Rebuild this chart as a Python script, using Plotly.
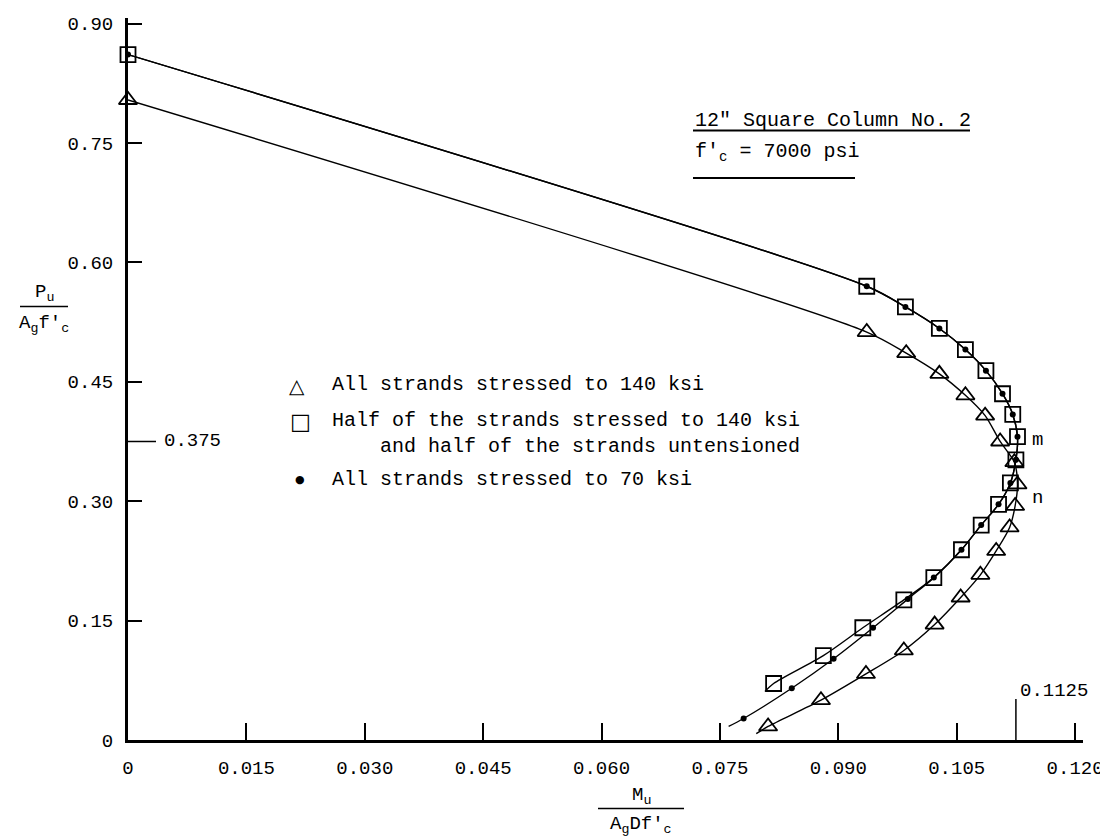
import plotly.graph_objects as go

# ---------------- data ----------------
# All strands stressed to 140 ksi (triangles)
tri_x = [0.0, 0.0936, 0.0986, 0.1028, 0.1061, 0.1086, 0.1105, 0.1123, 0.1127, 0.1124,
         0.1117, 0.1100, 0.1080, 0.1055, 0.1022, 0.0983, 0.0935, 0.0878, 0.0811]
tri_y = [0.804, 0.5125, 0.486, 0.460, 0.433, 0.4075, 0.375, 0.349, 0.321, 0.294,
         0.267, 0.2375, 0.2075, 0.179, 0.145, 0.1125, 0.083, 0.050, 0.017]
tri_curve_end = [0.0796, 0.008]

# Half stressed to 140 ksi, half untensioned (squares)
sq_x = [0.0, 0.0936, 0.0985, 0.1028, 0.1061, 0.1087, 0.1108, 0.1121, 0.1127, 0.1125,
        0.1118, 0.1103, 0.1081, 0.1056, 0.1021, 0.0983, 0.0931, 0.0881, 0.0818]
sq_y = [0.861, 0.570, 0.544, 0.517, 0.4905, 0.464, 0.435, 0.409, 0.381, 0.352,
        0.323, 0.296, 0.270, 0.239, 0.204, 0.176, 0.141, 0.106, 0.071]
sq_curve_end = [0.0807, 0.061]

# All strands stressed to 70 ksi (dots)
dot_x = [0.0, 0.0936, 0.0985, 0.1028, 0.1061, 0.1087, 0.1108, 0.1121, 0.1127, 0.1125,
         0.1118, 0.1103, 0.1081, 0.1056, 0.1021, 0.0988, 0.0944, 0.0894, 0.0841, 0.0780]
dot_y = [0.861, 0.570, 0.544, 0.517, 0.4905, 0.464, 0.435, 0.409, 0.381, 0.352,
         0.323, 0.296, 0.270, 0.239, 0.204, 0.177, 0.141, 0.102, 0.065, 0.027]
dot_curve_end = [0.0761, 0.017]

x_ticks = [0, 0.015, 0.030, 0.045, 0.060, 0.075, 0.090, 0.105, 0.120]
x_tick_labels = ["0", "0.015", "0.030", "0.045", "0.060", "0.075", "0.090", "0.105", "0.120"]
y_ticks = [0, 0.15, 0.30, 0.45, 0.60, 0.75, 0.90]
y_tick_labels = ["0", "0.15", "0.30", "0.45", "0.60", "0.75", "0.90"]
special_x_tick = 0.1125
special_y_tick = 0.375

legend_labels = ["All strands stressed to 140 ksi",
                 "Half of the strands stressed to 140 ksi",
                 "and half of the strands untensioned",
                 "All strands stressed to 70 ksi"]

# ---------------- layout geometry ----------------
W, H = 1108, 836
ML, MR, MT, MB = 120, 33, 6, 104
PW, PH = W - ML - MR, H - MT - MB
FONT = "Liberation Mono, Courier New, monospace"


def px(xp):
    return (xp - ML) / PW


def py(yp):
    return (H - MB - yp) / PH


fig = go.Figure()

line_style = dict(color="black", width=1.4, shape="spline", smoothing=0.8)
for xs, ys, end in [(tri_x, tri_y, tri_curve_end), (sq_x, sq_y, sq_curve_end),
                    (dot_x, dot_y, dot_curve_end)]:
    fig.add_trace(go.Scatter(x=xs + [end[0]], y=ys + [end[1]], mode="lines",
                             line=line_style, hoverinfo="skip", cliponaxis=False))

fig.add_trace(go.Scatter(x=tri_x, y=tri_y, mode="markers", name=legend_labels[0],
                         marker=dict(symbol="triangle-up-open", size=16, color="black",
                                     line=dict(width=1.8, color="black")),
                         cliponaxis=False))
fig.add_trace(go.Scatter(x=sq_x, y=sq_y, mode="markers", name=legend_labels[1],
                         marker=dict(symbol="square-open", size=15, color="black",
                                     line=dict(width=1.8, color="black")),
                         cliponaxis=False))
fig.add_trace(go.Scatter(x=dot_x, y=dot_y, mode="markers", name=legend_labels[3],
                         marker=dict(symbol="circle", size=6, color="black"),
                         cliponaxis=False))

fig.update_xaxes(range=[0, 0.121], tickvals=x_ticks, ticktext=x_tick_labels,
                 ticks="inside", ticklen=17, tickwidth=1.5, tickcolor="black",
                 showline=True, linewidth=2.5, linecolor="black", showgrid=False,
                 zeroline=False, ticklabelstandoff=8,
                 tickfont=dict(family=FONT, size=19, color="black"))
fig.update_yaxes(range=[0, 0.907], tickvals=y_ticks, ticktext=y_tick_labels,
                 ticks="inside", ticklen=14, tickwidth=1.5, tickcolor="black",
                 showline=True, linewidth=3, linecolor="black", showgrid=False,
                 zeroline=False, ticklabelstandoff=8,
                 tickfont=dict(family=FONT, size=19, color="black"))

shapes = [
    # special tick marks
    dict(type="line", xref="x", yref="y", xsizemode="pixel", xanchor=0,
         x0=0, x1=28, y0=special_y_tick, y1=special_y_tick,
         line=dict(color="black", width=1.5)),
    dict(type="line", xref="x", yref="y", ysizemode="pixel", yanchor=0,
         y0=0, y1=41, x0=special_x_tick, x1=special_x_tick,
         line=dict(color="black", width=1.5)),
    # underlines of the heading
    dict(type="line", xref="paper", yref="paper", x0=px(685), x1=px(962),
         y0=py(119), y1=py(119), line=dict(color="black", width=2)),
    dict(type="line", xref="paper", yref="paper", x0=px(685), x1=px(847),
         y0=py(167), y1=py(167), line=dict(color="black", width=2)),
    # fraction bars of the axis titles
    dict(type="line", xref="paper", yref="paper", x0=px(12), x1=px(60),
         y0=py(296), y1=py(296), line=dict(color="black", width=1.5)),
    dict(type="line", xref="paper", yref="paper", x0=px(590), x1=px(676),
         y0=py(801), y1=py(801), line=dict(color="black", width=1.5)),
]

ann = []


def text(x, y, s, anchor="left", size=20, family=FONT, xref="paper", yref="paper", **kw):
    ann.append(dict(x=x, y=y, xref=xref, yref=yref, text=s, showarrow=False,
                    xanchor=anchor, yanchor="middle", align="left",
                    font=dict(family=family, size=size, color="black"), **kw))


text(px(685), py(109), "12\" Square Column No. 2")
text(px(685), py(141), "f'<sub>c</sub> = 7000 psi")

# axis titles
text(px(36), py(283), "P<sub>u</sub>", anchor="center", size=19)
text(px(36), py(314), "A<sub>g</sub>f'<sub>c</sub>", anchor="center", size=19)
text(px(633), py(788), "M<sub>u</sub>", anchor="center", size=19)
text(px(633), py(817), "A<sub>g</sub>Df'<sub>c</sub>", anchor="center", size=19)

# special tick labels
text(0, special_y_tick, "0.375", xref="x", yref="y", size=19, xshift=34)
text(special_x_tick, 0, "0.1125", xref="x", yref="y", size=19, xshift=2, yshift=49)

# point labels m, n
text(px(1022), py(430), "m", size=19)
text(px(1022), py(489), "n", size=19)

# legend
text(px(289), py(376), "\u25B3", anchor="center", size=20, family="DejaVu Sans")
text(px(322), py(375), legend_labels[0])
text(px(292), py(412), "\u25A1", anchor="center", size=22, family="DejaVu Sans")
text(px(322), py(424), legend_labels[1] + "<br>" + "\u00a0" * 4 + legend_labels[2])
text(px(292), py(470), "\u25CF", anchor="center", size=11, family="DejaVu Sans")
text(px(322), py(470), legend_labels[3])

fig.update_layout(width=W, height=H, autosize=False,
                  margin=dict(l=ML, r=MR, t=MT, b=MB, pad=0),
                  plot_bgcolor="white", paper_bgcolor="white", showlegend=False,
                  font=dict(family=FONT, size=19, color="black"),
                  shapes=shapes, annotations=ann)

fig.write_html("out.html")
